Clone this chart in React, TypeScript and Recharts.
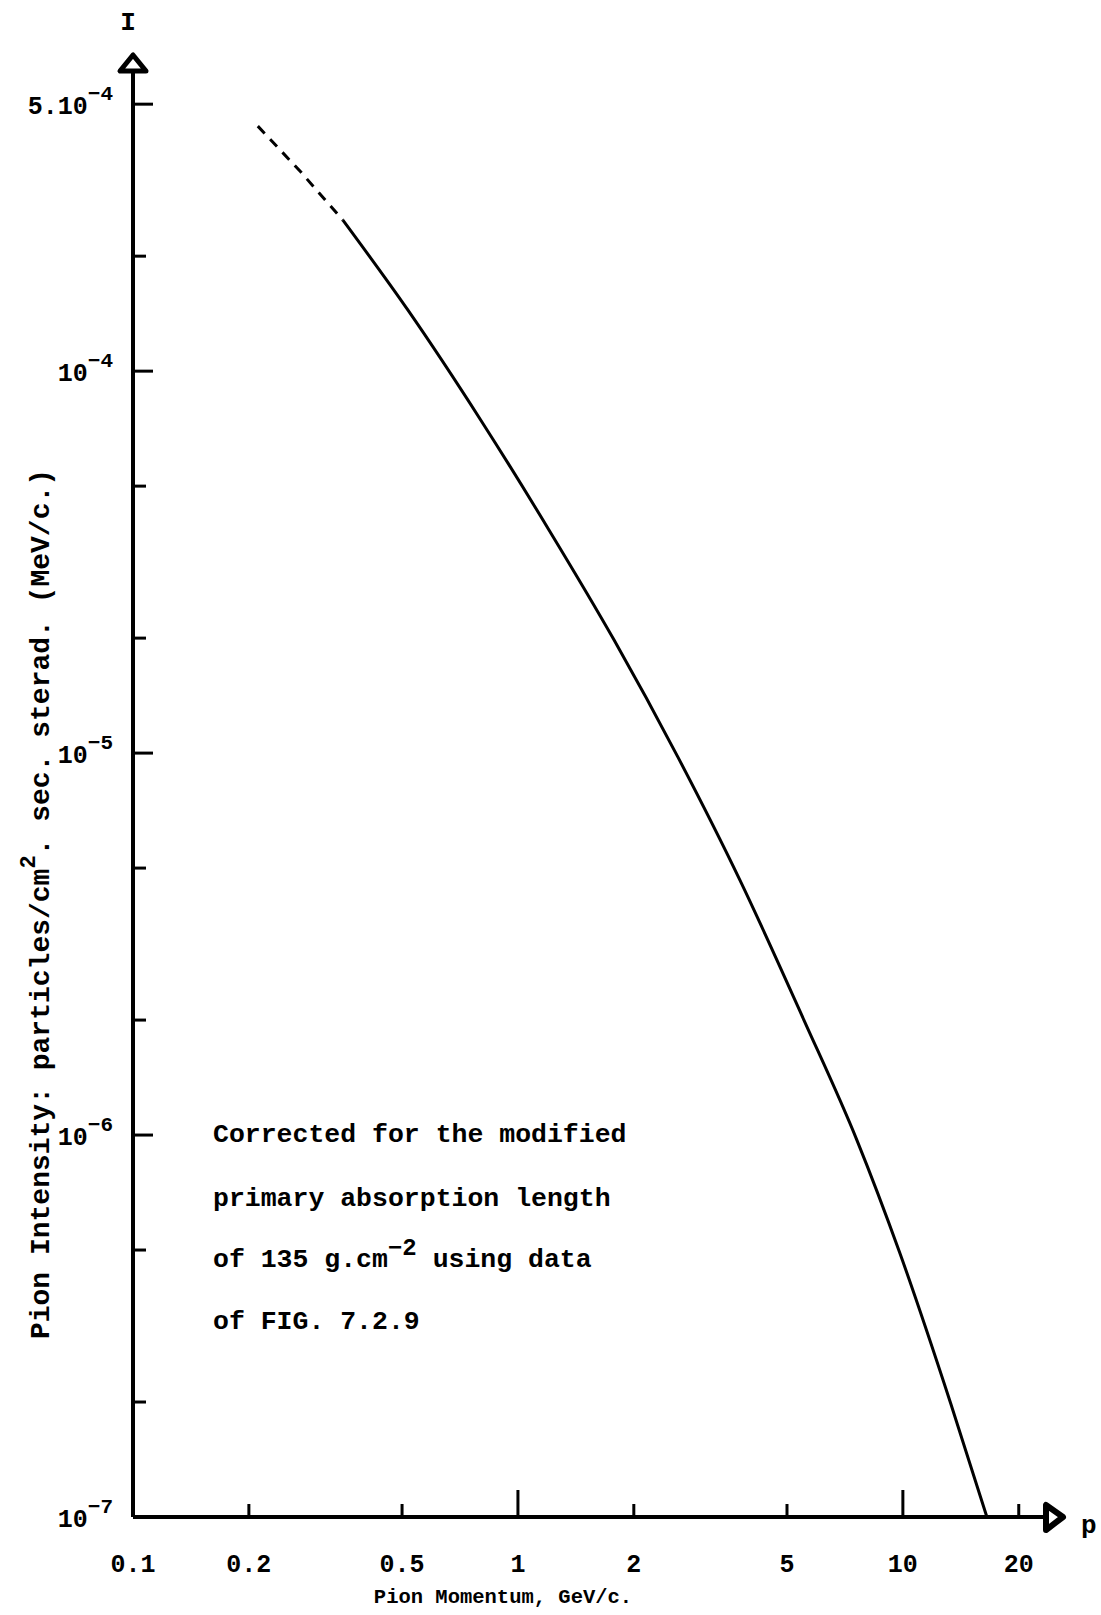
import { LineChart, Line, XAxis, YAxis } from 'recharts';

const FONT = '"Liberation Mono", "DejaVu Sans Mono", monospace';

// low-momentum part drawn dashed in the original
const dashedMomentum = [0.211, 0.273, 0.351];
const dashedIntensity = [4.38e-4, 3.32e-4, 2.485e-4];

const solidMomentum = [0.351, 0.518, 0.801, 1.204, 1.776, 2.604, 3.773, 5.533, 7.595, 9.82, 13.32, 16.53];
const solidIntensity = [2.485e-4, 1.444e-4, 7.44e-5, 3.84e-5, 1.98e-5, 9.76e-6, 4.65e-6, 2.0e-6, 9.7e-7, 4.91e-7, 1.98e-7, 1.0e-7];

const xTicks = [0.1, 0.2, 0.5, 1, 2, 5, 10, 20];
const xTickLabels = ['0.1', '0.2', '0.5', '1', '2', '5', '10', '20'];
const xTickLong = [false, false, false, true, false, false, true, false];

const yTicks = [1e-7, 2e-7, 5e-7, 1e-6, 2e-6, 5e-6, 1e-5, 2e-5, 5e-5, 1e-4, 2e-4, 5e-4];
const yTickBase = ['10', '', '', '10', '', '', '10', '', '', '10', '', '5.10'];
const yTickExp = ['−7', '', '', '−6', '', '', '−5', '', '', '−4', '', '−4'];

const noteLines = ['Corrected for the modified', 'primary absorption length'];
const noteLine3 = ['of 135 g.cm', '−2', ' using data'];
const noteLine4 = 'of FIG. 7.2.9';

const xTitle = 'Pion Momentum, GeV/c.';
const yTitle = ['Pion Intensity:  particles/cm', '2', '. sec. sterad. (MeV/c.)'];

const dashedData = dashedMomentum.map((p, i) => ({ p, I: dashedIntensity[i] }));
const solidData = solidMomentum.map((p, i) => ({ p, I: solidIntensity[i] }));

const findIdx = (arr: number[], v: number) => arr.findIndex(a => Math.abs(a - v) / a < 1e-6);

const XTick = (props: any) => {
  const { x, y, payload } = props;
  const i = findIdx(xTicks, payload.value);
  if (i < 0) return null;
  const len = i === 0 ? 0 : xTickLong[i] ? 27 : 13;
  return (
    <g>
      {len > 0 && <line x1={x} x2={x} y1={y} y2={y - len} stroke="#000" strokeWidth={3} />}
      <text x={x} y={y + 55} textAnchor="middle" fontFamily={FONT} fontWeight="bold" fontSize={25} fill="#000">
        {xTickLabels[i]}
      </text>
    </g>
  );
};

const YTick = (props: any) => {
  const { x, y, payload } = props;
  const i = findIdx(yTicks, payload.value);
  if (i < 0) return null;
  const major = yTickBase[i] !== '';
  const len = i === 0 ? 0 : major ? 20 : 13;
  return (
    <g>
      {len > 0 && <line x1={x} x2={x + len} y1={y} y2={y} stroke="#000" strokeWidth={3} />}
      {major && (
        <text x={x - 20} y={y + 10} textAnchor="end" fontFamily={FONT} fontWeight="bold" fontSize={25} fill="#000">
          {yTickBase[i]}
          <tspan dy={-14} fontSize={21}>{yTickExp[i]}</tspan>
        </text>
      )}
    </g>
  );
};

export default function App() {
  const textProps = { fontFamily: FONT, fontWeight: 'bold' as const, fill: '#000' };
  return (
    <div style={{ position: 'absolute', left: 0, top: 0, width: 1101, height: 1615, background: '#fff' }}>
      <LineChart width={1101} height={1615} margin={{ top: 72, right: 56, bottom: 38, left: 33 }}>
        <XAxis
          dataKey="p"
          type="number"
          scale="log"
          domain={[0.1, 23.4]}
          allowDataOverflow
          ticks={xTicks}
          interval={0}
          height={60}
          tickSize={0}
          tickMargin={0}
          tick={<XTick />}
          axisLine={{ stroke: '#000', strokeWidth: 4 }}
          tickLine={false}
        />
        <YAxis
          dataKey="I"
          type="number"
          scale="log"
          domain={[1e-7, 6.07e-4]}
          allowDataOverflow
          ticks={yTicks}
          interval={0}
          width={100}
          tickSize={0}
          tickMargin={0}
          tick={<YTick />}
          axisLine={{ stroke: '#000', strokeWidth: 4 }}
          tickLine={false}
        />
        <Line
          data={dashedData}
          dataKey="I"
          type="linear"
          stroke="#000"
          strokeWidth={3}
          strokeDasharray="10 8"
          dot={false}
          activeDot={false}
          isAnimationActive={false}
        />
        <Line
          data={solidData}
          dataKey="I"
          type="monotone"
          stroke="#000"
          strokeWidth={3}
          dot={false}
          activeDot={false}
          isAnimationActive={false}
        />
      </LineChart>
      <svg width={1101} height={1615} style={{ position: 'absolute', left: 0, top: 0, pointerEvents: 'none' }}>
        <polygon points="133,55 120,71 146,71" fill="#fff" stroke="#000" strokeWidth={5} strokeLinejoin="round" />
        <polygon points="1046,1505 1046,1530 1063,1517" fill="#fff" stroke="#000" strokeWidth={6} strokeLinejoin="round" />
        <text x={128} y={30} textAnchor="middle" fontSize={26} {...textProps}>I</text>
        <text x={1081} y={1533} fontSize={26} {...textProps}>p</text>
        <text x={503} y={1603} textAnchor="middle" fontSize={20.5} {...textProps}>{xTitle}</text>
        <text x={41} y={904} textAnchor="middle" dominantBaseline="central" transform="rotate(-90 41 904)" fontSize={28} {...textProps}>
          {yTitle[0]}
          <tspan dy={-12} fontSize={22}>{yTitle[1]}</tspan>
          <tspan dy={12}>{yTitle[2]}</tspan>
        </text>
        <text x={213} y={1142} fontSize={26.5} {...textProps}>{noteLines[0]}</text>
        <text x={213} y={1206} fontSize={26.5} {...textProps}>{noteLines[1]}</text>
        <text x={213} y={1267} fontSize={26.5} {...textProps}>
          {noteLine3[0]}
          <tspan dy={-12} fontSize={24}>{noteLine3[1]}</tspan>
          <tspan dy={12}>{noteLine3[2]}</tspan>
        </text>
        <text x={213} y={1329} fontSize={26.5} {...textProps}>{noteLine4}</text>
      </svg>
    </div>
  );
}
